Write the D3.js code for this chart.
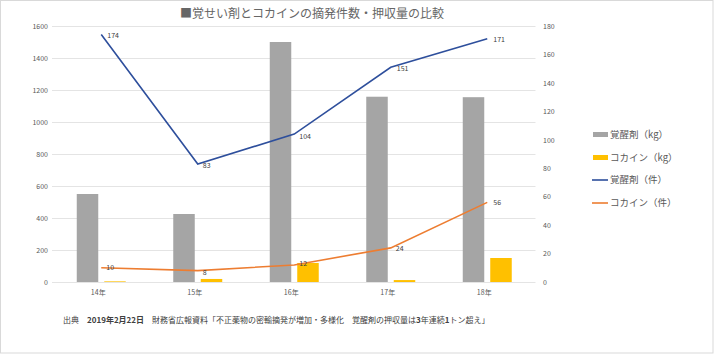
<!DOCTYPE html>
<html><head><meta charset="utf-8">
<script src="https://cdn.jsdelivr.net/npm/d3@7/dist/d3.min.js"></script>
<style>body{margin:0;background:#fff}svg{display:block;font-family:"Noto Sans CJK JP","Noto Sans",sans-serif}</style>
</head><body><svg id="c" width="714" height="355"></svg>
<script>
const years = ["14年","15年","16年","17年","18年"];
const stimKg = [550, 425, 1500, 1158, 1155];
const cocaKg = [4, 19, 119, 12, 150];
const stimCases = [174, 83, 104, 151, 171];
const cocaCases = [10, 8, 12, 24, 56];
const leftTicks = [0,200,400,600,800,1000,1200,1400,1600];
const rightTicks = [0,20,40,60,80,100,120,140,160,180];
const seriesNames = ["覚醒剤（kg）","コカイン（kg）","覚醒剤（件）","コカイン（件）"];
const title = "■覚せい剤とコカインの摘発件数・押収量の比較";

const svg = d3.select("#c");
svg.append("rect").attr("x",0.5).attr("y",0.5).attr("width",712.5).attr("height",352.5)
  .attr("fill","#fff").attr("stroke","#d9d9d9");

const x = d3.scaleBand().domain(years).range([53,535.5]).padding(0);
const x1 = d3.scaleBand().domain(["kg1","kg2"]).range([0,x.bandwidth()]).paddingInner(0.218).paddingOuter(0.864);
const yL = d3.scaleLinear().domain([0,1600]).range([282,26]);
const yR = d3.scaleLinear().domain([0,180]).range([282,26]);

// gridlines
svg.append("g").selectAll("line").data(leftTicks).join("line")
  .attr("x1",52).attr("x2",535.5).attr("y1",d=>yL(d)+0.5).attr("y2",d=>yL(d)+0.5)
  .attr("stroke","#e4e4e4").attr("stroke-width",1);

// axes
const axL = svg.append("g").attr("transform","translate(48,0)")
  .call(d3.axisLeft(yL).tickValues(leftTicks).tickFormat(d3.format("d")).tickSize(0).tickPadding(0));
const axR = svg.append("g").attr("transform","translate(543,0)")
  .call(d3.axisRight(yR).tickValues(rightTicks).tickFormat(d3.format("d")).tickSize(0).tickPadding(0));
const axB = svg.append("g").attr("transform","translate(-3,287)")
  .call(d3.axisBottom(x).tickSize(0).tickPadding(3));
[axL,axR,axB].forEach(a=>{a.select(".domain").remove();
  a.selectAll("text").attr("fill","#595959").style("font-size","7px").style("font-family","'Noto Sans CJK JP',sans-serif");});

// bars
const g = svg.append("g");
g.selectAll(".b1").data(years).join("rect")
  .attr("x",(d)=>x(d)+x1("kg1")).attr("width",x1.bandwidth())
  .attr("y",(d,i)=>yL(stimKg[i])).attr("height",(d,i)=>yL(0)-yL(stimKg[i])).attr("fill","#a5a5a5");
g.selectAll(".b2").data(years).join("rect")
  .attr("x",(d)=>x(d)+x1("kg2")).attr("width",x1.bandwidth())
  .attr("y",(d,i)=>yL(cocaKg[i])).attr("height",(d,i)=>yL(0)-yL(cocaKg[i])).attr("fill","#ffc000");

// lines
const cx = d=>x(d)+x.bandwidth()/2;
function drawLine(vals,color,offs){
  const line = d3.line().x((d,i)=>cx(years[i])).y(d=>yR(d));
  svg.append("path").datum(vals).attr("d",line).attr("fill","none").attr("stroke",color).attr("stroke-width",1.6);
  svg.append("g").selectAll("text").data(vals).join("text")
    .attr("x",(d,i)=>cx(years[i])+offs[i][0]).attr("y",(d,i)=>yR(d)+offs[i][1])
    .attr("dy","0.35em").attr("fill","#404040").style("font-size","7px").text(d=>d);
}
drawLine(stimCases,"#2e4f9c",[[6,1],[5,2],[5,2],[6,1],[6,1]]);
drawLine(cocaCases,"#ed7d31",[[5,0],[5,2],[5,-1],[5,1],[6,0]]);

// title
svg.append("text").attr("x",180).attr("y",18).attr("fill","#666666").style("font-size","12px").text(title);

// legend
const lg = svg.append("g");
const colors = ["#a5a5a5","#ffc000","#2e4f9c","#ed7d31"];
const ly = [134.5,157.5,180,203];
seriesNames.forEach((n,i)=>{
  if(i<2) lg.append("rect").attr("x",593).attr("y",ly[i]-2.5).attr("width",15).attr("height",5).attr("fill",colors[i]);
  else lg.append("line").attr("x1",592).attr("x2",608).attr("y1",ly[i]).attr("y2",ly[i]).attr("stroke",colors[i]).attr("stroke-width",1.6);
  lg.append("text").attr("x",610).attr("y",ly[i]).attr("dy","0.35em").attr("fill","#595959").style("font-size","9.5px").text(n);
});

// source
const src = svg.append("text").attr("x",63).attr("y",323).attr("fill","#404040").style("font-size","8px");
src.append("tspan").text("出典　");
src.append("tspan").attr("font-weight","bold").text("2019年2月22日");
src.append("tspan").text("　財務省広報資料「不正薬物の密輸摘発が増加・多様化　覚醒剤の押収量は");
src.append("tspan").attr("font-weight","bold").text("3");
src.append("tspan").text("年連続");
src.append("tspan").attr("font-weight","bold").text("1");
src.append("tspan").text("トン超え」");
</script></body></html>
